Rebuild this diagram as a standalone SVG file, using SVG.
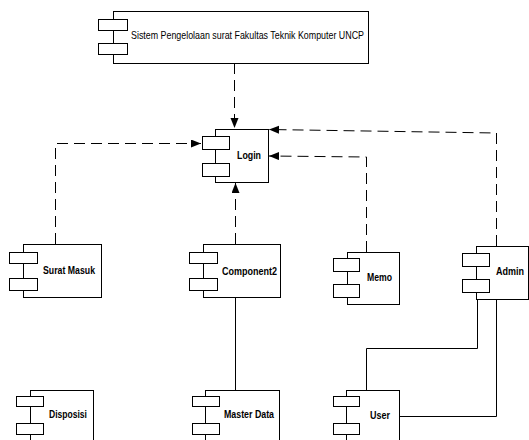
<svg xmlns="http://www.w3.org/2000/svg" width="529" height="440" viewBox="0 0 529 440">
<style>
.box{fill:#fff;stroke:#000;stroke-width:1}
.tab{fill:#fff;stroke:#000;stroke-width:1}
.lbl{font-family:"Liberation Sans",Arial,sans-serif;font-size:11px;font-weight:bold;fill:#000}
.lblr{font-family:"Liberation Sans",Arial,sans-serif;font-size:11px;fill:#000}
.dash{fill:none;stroke:#000;stroke-width:1;stroke-dasharray:11 6}
.solid{fill:none;stroke:#000;stroke-width:1}
</style>
<defs>
<marker id="arr" markerUnits="userSpaceOnUse" markerWidth="11" markerHeight="9" refX="10" refY="4" orient="auto">
<path d="M0,0 L10,4 L0,8 z" fill="#000"/>
</marker>
</defs>
<rect width="529" height="440" fill="#fff"/>
<g id="connectors">
<path class="dash" d="M234.5,63 V128" marker-end="url(#arr)"/>
<path class="dash" d="M55.5,244 V143.5 H201" marker-end="url(#arr)"/>
<path class="dash" d="M235.5,244 V183" marker-end="url(#arr)"/>
<path class="dash" d="M366.5,252 V157 L269,156" marker-end="url(#arr)"/>
<path class="dash" d="M496.5,246 V133 L269,129.5" marker-end="url(#arr)"/>
<path class="solid" d="M235.5,297 V390"/>
<path class="solid" d="M477.5,299 V348.5 H366.5 V390"/>
<path class="solid" d="M496.5,299 V416.5 H399"/>
</g>
<g id="sistem">
<rect class="box" x="113.5" y="11.5" width="255" height="52"/>
<rect class="tab" x="98.5" y="19.5" width="29" height="11"/>
<rect class="tab" x="98.5" y="43.5" width="29" height="11"/>
<text class="lblr" x="131" y="39" textLength="233" lengthAdjust="spacingAndGlyphs">Sistem Pengelolaan surat Fakultas Teknik Komputer UNCP</text>
</g>
<g id="login">
<rect class="box" x="215.5" y="129.5" width="53" height="53"/>
<rect class="tab" x="202.5" y="136.5" width="27" height="13"/>
<rect class="tab" x="202.5" y="163.5" width="27" height="13"/>
<text class="lbl" x="237" y="159" textLength="24" lengthAdjust="spacingAndGlyphs">Login</text>
</g>
<g id="surat-masuk">
<rect class="box" x="23.5" y="244.5" width="78" height="53"/>
<rect class="tab" x="9.5" y="252.5" width="28" height="11"/>
<rect class="tab" x="9.5" y="278.5" width="28" height="12"/>
<text class="lbl" x="43" y="274" textLength="52" lengthAdjust="spacingAndGlyphs">Surat Masuk</text>
</g>
<g id="component2">
<rect class="box" x="203.5" y="244.5" width="77" height="53"/>
<rect class="tab" x="189.5" y="252.5" width="28" height="11"/>
<rect class="tab" x="189.5" y="278.5" width="28" height="12"/>
<text class="lbl" x="222" y="275" textLength="55" lengthAdjust="spacingAndGlyphs">Component2</text>
</g>
<g id="memo">
<rect class="box" x="347.5" y="252.5" width="52" height="52"/>
<rect class="tab" x="333.5" y="258.5" width="26" height="13"/>
<rect class="tab" x="333.5" y="284.5" width="26" height="13"/>
<text class="lbl" x="367" y="281" textLength="25" lengthAdjust="spacingAndGlyphs">Memo</text>
</g>
<g id="admin">
<rect class="box" x="476.5" y="246.5" width="52" height="53"/>
<rect class="tab" x="462.5" y="253.5" width="27" height="13"/>
<rect class="tab" x="462.5" y="279.5" width="27" height="13"/>
<text class="lbl" x="496" y="275" textLength="28" lengthAdjust="spacingAndGlyphs">Admin</text>
</g>
<g id="disposisi">
<rect class="box" x="30.5" y="390.5" width="63" height="60"/>
<rect class="tab" x="16.5" y="396.5" width="27" height="10"/>
<rect class="tab" x="16.5" y="423.5" width="27" height="11"/>
<text class="lbl" x="49" y="418" textLength="38" lengthAdjust="spacingAndGlyphs">Disposisi</text>
</g>
<g id="master-data">
<rect class="box" x="205.5" y="390.5" width="74" height="60"/>
<rect class="tab" x="192.5" y="396.5" width="27" height="10"/>
<rect class="tab" x="192.5" y="423.5" width="27" height="11"/>
<text class="lbl" x="224" y="418" textLength="50" lengthAdjust="spacingAndGlyphs">Master Data</text>
</g>
<g id="user">
<rect class="box" x="346.5" y="390.5" width="53" height="60"/>
<rect class="tab" x="333.5" y="396.5" width="26" height="10"/>
<rect class="tab" x="333.5" y="423.5" width="26" height="11"/>
<text class="lbl" x="370" y="419" textLength="20" lengthAdjust="spacingAndGlyphs">User</text>
</g>
</svg>
